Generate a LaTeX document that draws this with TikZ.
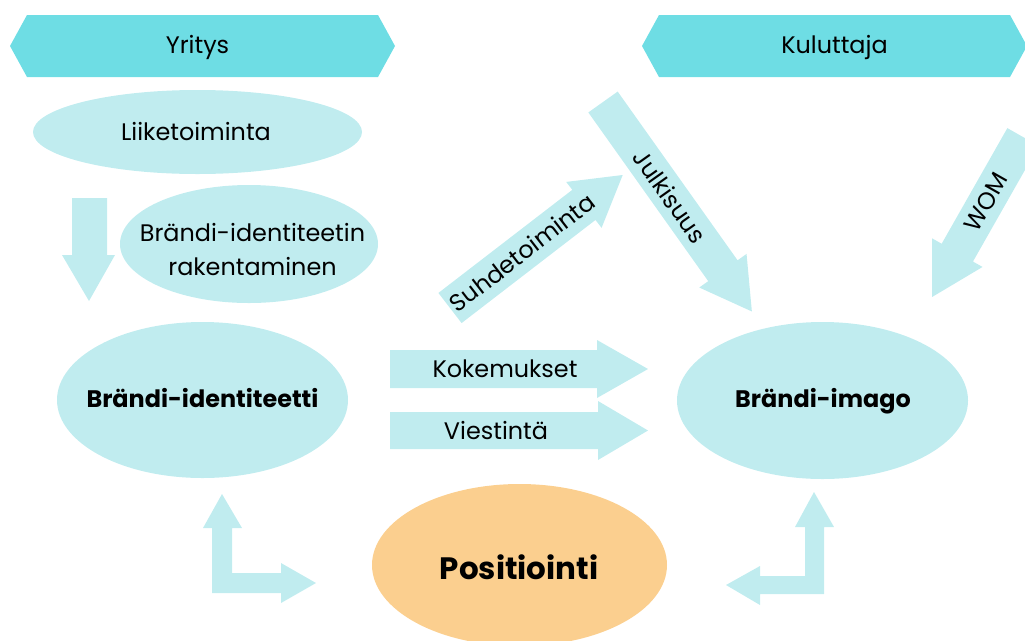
\documentclass[tikz,border=0pt]{standalone}
\usepackage{fontspec}
\setmainfont{Poppins}
\usepackage{tikz}
\usetikzlibrary{math}
\definecolor{mycyan}{RGB}{110,221,228}
\definecolor{mylight}{RGB}{192,236,239}
\definecolor{myorange}{RGB}{251,207,143}

\begin{document}
\begin{tikzpicture}[x=0.025cm, y=-0.025cm,
  lbl/.style={font=\fontsize{17}{23.5}\selectfont, inner sep=0pt},
  boldlbl/.style={lbl, font=\fontsize{17}{23.5}\selectfont\bfseries}]
\tikzmath{
\W=1025; \H=640;
}
\useasboundingbox (0,0) rectangle (\W,\H);
\clip (0,0) rectangle (\W,\H);

% header bars
\fill[mycyan] (10,46) -- (27,15) -- (378,15) -- (395,46) -- (378,77) -- (27,77) -- cycle;
\node[lbl, anchor=base] (yritys) at (197.5,53) {Yritys};
\fill[mycyan] (642,46) -- (659,15) -- (1010,15) -- (1027,46) -- (1010,77) -- (659,77) -- cycle;
\node[lbl, anchor=base] (kuluttaja) at (834.5,53) {Kuluttaja};

% ellipses
\fill[mylight] (197.5,132) ellipse [x radius=164.5, y radius=42];
\node[lbl, anchor=base] (liike) at (196,140) {Liiketoiminta};
\fill[mylight] (249,244) ellipse [x radius=129, y radius=59];
\node[lbl, align=center] (rakent) at (252.5,249.5) {Brändi-identiteetin\\rakentaminen};
\fill[mylight] (202.5,400) ellipse [x radius=145.5, y radius=78];
\node[boldlbl, anchor=base] (identiteetti) at (202.5,407) {Brändi-identiteetti};
\fill[mylight] (822.5,400.5) ellipse [x radius=145.5, y radius=78.5];
\node[boldlbl, anchor=base] (imago) at (823,407) {Brändi-imago};
\fill[myorange] (519.5,565) ellipse [x radius=147.5, y radius=81];
\node[lbl, font=\fontsize{22}{26}\selectfont\bfseries, anchor=base] (posit) at (519,579) {Positiointi};

% block arrows
\fill[mylight] (72,198) -- (107,198) -- (107,255) -- (115,255) -- (89,301) -- (62,255) -- (72,255) -- cycle;
\foreach \nm/\sx/\sy/\ang/\len/\sw/\hw/\hl/\lp/\lr/\txt in {
  suhde/450/308/37.6/218/19/29/49/91/37.6/Suhdetoiminta,
  julk/603/102/-54.6/257/18/29/50/116/-54.6/Julkisuus,
  wom/1023/137/-119.6/184/18/29/51/75/60.4/WOM,
  koke/390/369/0/258/19/29/51/115/0/Kokemukset,
  vies/390/430.5/0/258/18.5/29.5/50/106/0/Viestintä}{
\begin{scope}[shift={(\sx,\sy)}, rotate=\ang]
\fill[mylight] (0,-\sw) -- ({\len-\hl},-\sw) -- ({\len-\hl},-\hw) -- (\len,0)
  -- ({\len-\hl},\hw) -- ({\len-\hl},\sw) -- (0,\sw) -- cycle;
\node[lbl, rotate=\lr] (\nm) at (\lp,0) {\txt};
\end{scope}
}

% positioning arrows
\fill[mylight] (212,593) -- (212,528) -- (203,528) -- (222,494) -- (242,528) -- (232,528)
  -- (232,573) -- (281,573) -- (281,563) -- (316,583) -- (281,603) -- (281,593) -- cycle;
\fill[mylight] (824,594) -- (824,527) -- (834,527) -- (814,492) -- (795,527) -- (805,527)
  -- (805,576) -- (760,576) -- (760,566) -- (726,585) -- (760,605) -- (760,594) -- cycle;
\end{tikzpicture}
\end{document}
